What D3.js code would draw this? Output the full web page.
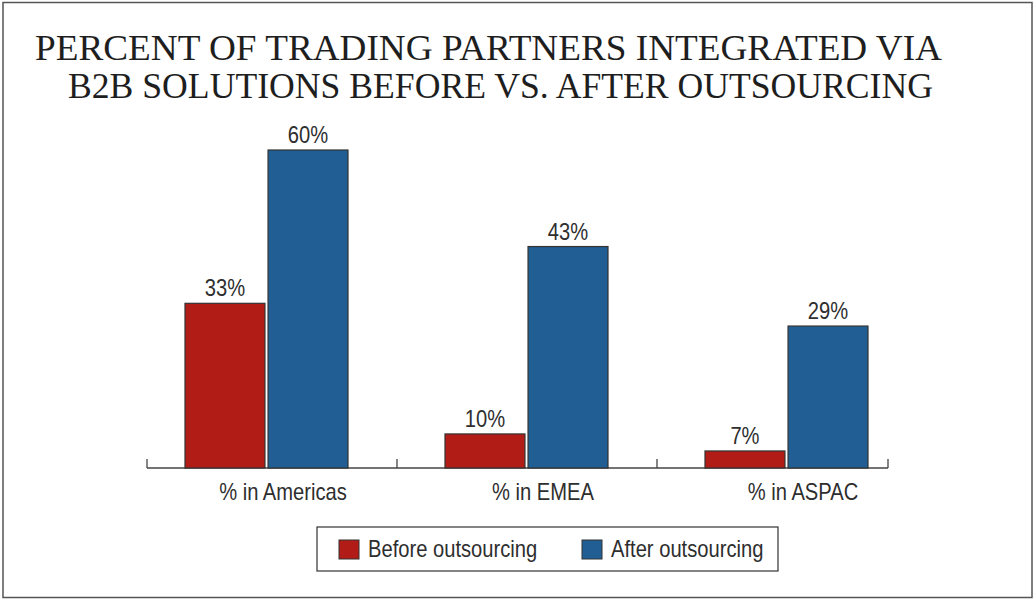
<!DOCTYPE html>
<html>
<head>
<meta charset="utf-8">
<script src="https://cdn.jsdelivr.net/npm/d3@7"></script>
<style>
  body { margin: 0; background: #fff; }
  .lbl { font-family: "Liberation Sans", Arial, sans-serif; fill: #2e2e2e; }
  .ttl { font-family: "Liberation Serif", "DejaVu Serif", serif; fill: #1e1e1e; }
</style>
</head>
<body>
<div id="chart"></div>
<script>
// Data
var regions = ['% in Americas', '% in EMEA', '% in ASPAC'];
var series = ['Before outsourcing', 'After outsourcing'];
var before_values = [33, 10, 7];
var after_values = [60, 43, 29];
var title_lines = ['PERCENT OF TRADING PARTNERS INTEGRATED VIA', 'B2B SOLUTIONS BEFORE VS. AFTER OUTSOURCING'];

var chart_width  = 1034;
var chart_height = 599;
var base_y = 468;
var narrow = 0.84;   // fake a condensed face

var colors = d3.scaleOrdinal()
    .domain(series)
    .range(['#b21c17', '#215e93']);

var rows = regions.map(function(r, i){
    return { region: r, values: [
        { key: series[0], value: before_values[i] },
        { key: series[1], value: after_values[i] }
    ]};
});

var svg = d3.select('#chart')
    .append('svg')
    .attr('width', chart_width)
    .attr('height', chart_height);

// frame
svg.append('rect')
    .attr('x', 3)
    .attr('y', 2.5)
    .attr('width', 1029)
    .attr('height', 595)
    .attr('fill', 'none')
    .attr('stroke', '#555')
    .attr('stroke-width', 1.5);

// title
var title_pos = [[35, 60, 907], [68, 98, 865]];
svg.selectAll('text.ttl')
    .data(title_lines)
    .enter()
    .append('text')
    .attr('class', 'ttl')
    .attr('x', function(d, i){ return title_pos[i][0]; })
    .attr('y', function(d, i){ return title_pos[i][1]; })
    .attr('textLength', function(d, i){ return title_pos[i][2]; })
    .attr('lengthAdjust', 'spacingAndGlyphs')
    .attr('font-size', 36)
    .text(function(d){ return d; });

// scales
var x0 = d3.scaleBand()
    .domain(regions)
    .range([137, 917])
    .paddingInner(0)
    .paddingOuter(0);

var x1 = d3.scaleBand()
    .domain(series)
    .range([0, 163])
    .paddingInner(0.037);

var y = d3.scaleLinear()
    .domain([4, 60])
    .range([base_y, 150]);

var group_off = (x0.bandwidth() - 163) / 2 - 0.5;

// axis line with end ticks
var axis_g = svg.append('g').attr('stroke', '#444').attr('stroke-width', 1.3);
axis_g.append('line')
    .attr('x1', 147).attr('x2', 888)
    .attr('y1', base_y).attr('y2', base_y);
var tick_x = [147, x0(regions[1]), x0(regions[2]), 888];
axis_g.selectAll('line.tick')
    .data(tick_x)
    .enter()
    .append('line')
    .attr('class', 'tick')
    .attr('x1', function(d){ return d; })
    .attr('x2', function(d){ return d; })
    .attr('y1', base_y)
    .attr('y2', base_y - 9);

// bars
var groups = svg.selectAll('g.grp')
    .data(rows)
    .enter()
    .append('g')
    .attr('class', 'grp')
    .attr('transform', function(d){ return 'translate(' + (x0(d.region) + group_off) + ',0)'; });

groups.selectAll('rect')
    .data(function(d){ return d.values; })
    .enter()
    .append('rect')
    .attr('x', function(d){ return x1(d.key); })
    .attr('y', function(d){ return y(d.value); })
    .attr('width', x1.bandwidth())
    .attr('height', function(d){ return base_y - y(d.value); })
    .attr('fill', function(d){ return colors(d.key); })
    .attr('stroke', '#333')
    .attr('stroke-width', 1.2);

groups.selectAll('text')
    .data(function(d){ return d.values; })
    .enter()
    .append('text')
    .attr('class', 'lbl')
    .attr('x', function(d){ return x1(d.key) + x1.bandwidth() / 2; })
    .attr('y', function(d){ return y(d.value) - 7; })
    .attr('text-anchor', 'middle')
    .attr('font-size', 24)
    .text(function(d){ return d.value + '%'; });

// category labels
svg.selectAll('text.cat')
    .data(regions)
    .enter()
    .append('text')
    .attr('class', 'lbl cat')
    .attr('x', function(d){ return x0(d) + x0.bandwidth() / 2 + 16; })
    .attr('y', 500)
    .attr('text-anchor', 'middle')
    .attr('font-size', 24)
    .text(function(d){ return d; });

// legend
var legend = svg.append('g').attr('transform', 'translate(317,527)');
legend.append('rect')
    .attr('width', 461)
    .attr('height', 44)
    .attr('fill', '#fff')
    .attr('stroke', '#333')
    .attr('stroke-width', 1.2);

var legend_x = [22, 265];
var items = legend.selectAll('g.item')
    .data(series)
    .enter()
    .append('g')
    .attr('class', 'item')
    .attr('transform', function(d, i){ return 'translate(' + legend_x[i] + ',13)'; });

items.append('rect')
    .attr('width', 20)
    .attr('height', 19)
    .attr('fill', function(d){ return colors(d); })
    .attr('stroke', '#333')
    .attr('stroke-width', 1);

items.append('text')
    .attr('class', 'lbl')
    .attr('x', 29)
    .attr('y', 17)
    .attr('font-size', 24)
    .text(function(d){ return d; });

// squeeze the sans labels horizontally
svg.selectAll('text.lbl').each(function(){
    var w = this.getComputedTextLength();
    d3.select(this)
        .attr('textLength', w * narrow)
        .attr('lengthAdjust', 'spacingAndGlyphs');
});
</script>
</body>
</html>
